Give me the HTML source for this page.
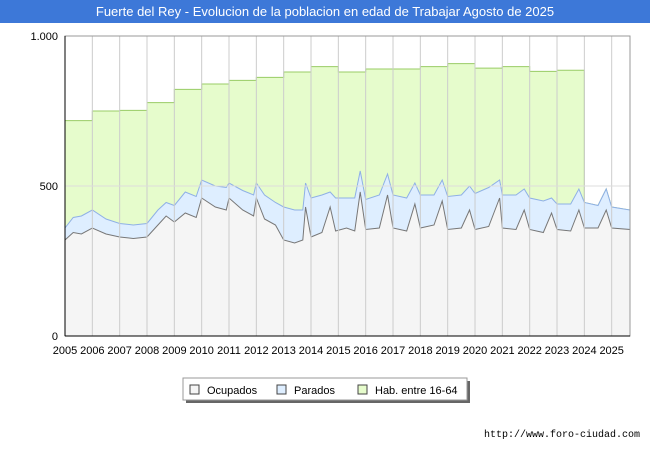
<!DOCTYPE html>
<html><head><meta charset="utf-8"><style>
body{margin:0;background:#fff;font-family:"Liberation Sans",sans-serif}
#wrap{position:relative;width:650px;height:450px;overflow:hidden}
#title{position:absolute;left:0;top:0;width:650px;height:23px;background:#3d78d8;color:#fff;font-size:13px;line-height:23px;text-align:center}
</style></head><body>
<div id="wrap">
<div id="title">Fuerte del Rey - Evolucion de la poblacion en edad de Trabajar Agosto de 2025</div>
<svg id="svg" width="650" height="450" style="position:absolute;left:0;top:0"></svg>
</div>
<script>
const habYears=[2005,2006,2007,2008,2009,2010,2011,2012,2013,2014,2015,2016,2017,2018,2019,2020,2021,2022,2023];
const habValues=[718,750,752,778,822,840,852,862,880,898,880,890,890,898,908,893,898,882,886];
const times=[2005.0,2005.3,2005.6,2006.0,2006.5,2007.0,2007.5,2008.0,2008.4,2008.7,2009.0,2009.4,2009.8,2010.0,2010.5,2010.9,2011.0,2011.5,2011.9,2012.0,2012.3,2012.7,2013.0,2013.4,2013.7,2013.8,2014.0,2014.4,2014.7,2014.9,2015.3,2015.6,2015.8,2016.0,2016.5,2016.8,2017.0,2017.5,2017.8,2018.0,2018.5,2018.8,2019.0,2019.5,2019.8,2020.0,2020.5,2020.9,2021.0,2021.5,2021.8,2022.0,2022.5,2022.8,2023.0,2023.5,2023.8,2024.0,2024.5,2024.8,2025.0,2025.67];
const ocupados=[320,345,340,360,340,330,325,330,370,400,380,410,395,460,430,420,460,420,400,460,390,370,320,310,320,430,330,345,430,350,360,350,480,355,360,470,360,350,440,360,370,450,355,360,420,355,365,460,360,355,420,355,345,410,355,350,420,360,360,420,360,355];
const parados=[40,50,60,60,50,45,45,45,50,45,55,70,70,60,70,75,50,65,70,50,80,75,110,110,100,80,130,125,50,110,100,110,70,100,110,70,110,110,70,110,100,70,110,110,80,120,130,60,110,115,70,105,105,50,85,90,70,85,75,70,70,65];
const yTicks=[0,500,1000];const yLabels=["0","500","1.000"];
const x0=65,x1=630,yb=336,yt=36;
const X=t=>x0+(t-2005)*(x1-x0)/(2025.67-2005);
const Y=v=>yb-(v/1000)*(yb-yt);
const svg=document.getElementById('svg');const NS='http://www.w3.org/2000/svg';
function mk(tag,attrs,parent){const e=document.createElementNS(NS,tag);for(const k in attrs)e.setAttribute(k,attrs[k]);(parent||svg).appendChild(e);return e;}
// hab area
let hp=`M${X(2005)},${yb}`;
habYears.forEach((y,i)=>{hp+=` L${X(y)},${Y(habValues[i])} L${X(y+1)},${Y(habValues[i])}`;});
const iStart=times.findIndex(t=>t>=2024);
for(let i=iStart;i<times.length;i++)hp+=` L${X(times[i])},${Y(ocupados[i]+parados[i])}`;
hp+=` L${X(2025.67)},${yb} Z`;
let e=mk('path',{d:hp,fill:'#e6fccc',stroke:'#99cc66','stroke-width':1});

// parados area
let up=times.map((t,i)=>`${X(t)},${Y(ocupados[i]+parados[i])}`);
e=mk('path',{d:`M${X(2005)},${yb} L${up.join(' L')} L${X(2025.67)},${yb} Z`,fill:'#deeeff',stroke:'#8fb0e6','stroke-width':1});

let op=times.map((t,i)=>`${X(t)},${Y(ocupados[i])}`);
e=mk('path',{d:`M${X(2005)},${yb} L${op.join(' L')} L${X(2025.67)},${yb} Z`,fill:'#f5f5f5',stroke:'#777','stroke-width':1});

// grid
for(let y=2005;y<=2025;y++){e=mk('line',{x1:X(y),x2:X(y),y1:yt,y2:yb,stroke:'#ccc','stroke-width':1});

e=mk('text',{x:X(y),y:354,'font-size':11,'text-anchor':'middle',fill:'#000'});e.textContent=y;
}
yTicks.forEach((v,i)=>{e=mk('line',{x1:x0,x2:x1,y1:Y(v),y2:Y(v),stroke:'#ddd'});

e=mk('text',{x:58,y:Y(v)+4,'font-size':11,'text-anchor':'end'});e.textContent=yLabels[i];
});
e=mk('rect',{x:x0,y:yt,width:x1-x0,height:yb-yt,fill:'none',stroke:'#999'});

e=mk('line',{x1:x0,x2:x0,y1:yt,y2:yb,stroke:'#000'});

e=mk('line',{x1:x0,x2:x1,y1:yb,y2:yb,stroke:'#000'});

// legend
e=mk('rect',{x:186,y:381,width:284,height:22,fill:'#666'});

e=mk('rect',{x:183,y:378,width:284,height:22,fill:'#fff',stroke:'#999'});

const leg=[["Ocupados","#f5f5f5","#777",190],["Parados","#deeeff","#8fb0e6",277],["Hab. entre 16-64","#e6fccc","#99cc66",358]];
leg.forEach(l=>{e=mk('rect',{x:l[3],y:385,width:9,height:9,fill:l[1],stroke:'#444'});

e=mk('text',{x:l[3]+17,y:394,'font-size':11});e.textContent=l[0];
});
e=mk('text',{x:640,y:437,'font-size':10,'text-anchor':'end','font-family':'Liberation Mono, monospace'});e.textContent='http://www.foro-ciudad.com';

</script>
</body></html>
